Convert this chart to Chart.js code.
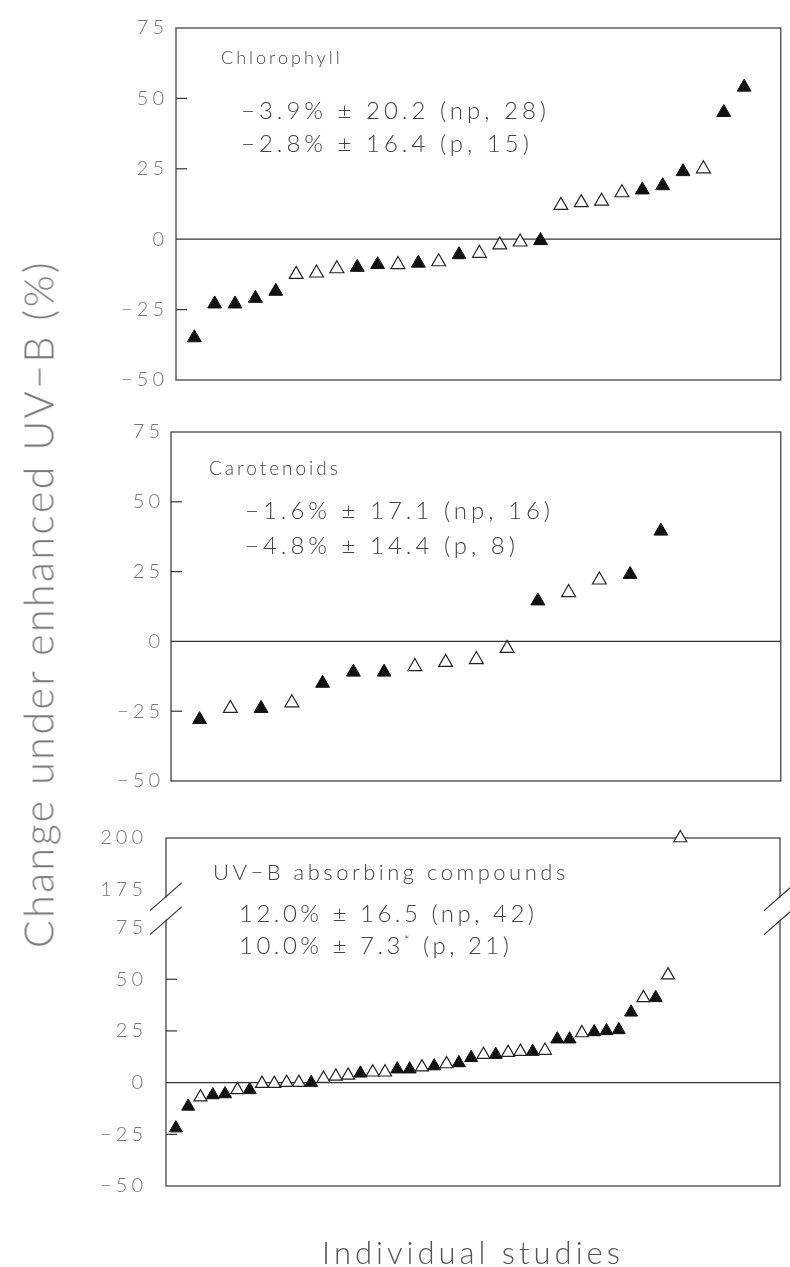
<!DOCTYPE html>
<html lang="en">
<head>
  <meta charset="UTF-8">
  <title>Change under enhanced UV-B</title>
  <style>
    body {
      margin: 0;
      background: #fff;
    }
    #page {
      position: relative;
      width: 790px;
      height: 1267px;
      overflow: hidden;
      font-family: Lato, Roboto, "DejaVu Sans", sans-serif;
      font-weight: 300;
      color: #444;
    }
    canvas {
      position: absolute;
      left: 0;
    }
    .txt {
      position: absolute;
      white-space: nowrap;
      line-height: 1;
    }
    .name { font-size: 18px; letter-spacing: 3px; }
    .stat { font-size: 24px; letter-spacing: 4px; }
    sup { font-size: 13px; }
    #ytitle {
      left: 38px;
      top: 604px;
      font-size: 41px;
      letter-spacing: 2.5px;
      color: #777;
      transform: translate(-50%, -50%) rotate(-90deg);
    }
    #xtitle {
      left: 473px;
      top: 1252px;
      font-size: 31px;
      letter-spacing: 4px;
      color: #555;
      transform: translate(-50%, -50%);
    }
  </style>
  <script src="https://cdn.jsdelivr.net/npm/chart.js"></script>
</head>
<body>
<div id="page">
  <canvas id="chl" width="790" height="400" style="top:0"></canvas>
  <canvas id="car" width="790" height="400" style="top:400px"></canvas>
  <canvas id="uvb" width="790" height="467" style="top:800px"></canvas>

  <div class="txt name" style="left:221px; top:48px">Chlorophyll</div>
  <div class="txt stat" style="left:241px; top:98px">−3.9% ± 20.2 (np, 28)</div>
  <div class="txt stat" style="left:241px; top:131px">−2.8% ± 16.4 (p, 15)</div>

  <div class="txt name" style="left:209px; top:458px; font-size:19px">Carotenoids</div>
  <div class="txt stat" style="left:245px; top:498px">−1.6% ± 17.1 (np, 16)</div>
  <div class="txt stat" style="left:245px; top:533px">−4.8% ± 14.4 (p, 8)</div>

  <div class="txt name" style="left:213px; top:861px; font-size:22px; letter-spacing:3.5px">UV−B absorbing compounds</div>
  <div class="txt stat" style="left:239px; top:901px; letter-spacing:3.5px">12.0% ± 16.5 (np, 42)</div>
  <div class="txt stat" style="left:239px; top:933px; letter-spacing:3.5px">10.0% ± 7.3<sup>*</sup> (p, 21)</div>

  <div class="txt" id="ytitle">Change under enhanced UV−B (%)</div>
  <div class="txt" id="xtitle">Individual studies</div>
</div>

<script>
  // values per study, sorted; 1 = paired study (filled triangle)
  const chlorophyll = [-35, -23, -23, -21, -18.5, -12.5, -12, -10.5, -10, -9, -9, -8.5, -8, -5.5, -5, -2, -1, -0.5,
                       12, 13, 13.5, 16.5, 17.5, 19, 24, 25, 45, 54];
  const chlorophyllPaired = [1, 1, 1, 1, 1, 0, 0, 0, 1, 1, 0, 1, 0, 1, 0, 0, 0, 1, 0, 0, 0, 0, 1, 1, 1, 0, 1, 1];

  const carotenoids = [-28, -24, -24, -22, -15, -11, -11, -9, -7.5, -6.5, -2.5, 14.5, 17.5, 22, 24, 39.5];
  const carotenoidsPaired = [1, 0, 1, 0, 1, 1, 1, 0, 0, 0, 0, 1, 0, 0, 1, 1];

  const uvbCompounds = [-22, -11.5, -7, -6, -5.5, -3.5, -3.5, -0.5, -0.5, 0, 0, 0, 2, 3, 3.5, 4.5, 5, 5, 6.5, 6.5,
                        7.5, 8, 9, 9.5, 12, 13.5, 13.5, 14.5, 15, 15, 15.5, 21, 21, 24, 24.5, 25, 25.5, 34, 41, 41, 52, 200];
  const uvbPaired = [1, 1, 0, 1, 1, 0, 1, 0, 0, 0, 0, 1, 0, 0, 0, 1, 0, 0, 1, 1,
                     0, 1, 0, 1, 1, 0, 1, 0, 0, 1, 0, 1, 1, 0, 1, 1, 1, 1, 0, 1, 0, 0];

  const yTicks = [-50, -25, 0, 25, 50, 75];
  const yTicksBroken = [-50, -25, 0, 25, 50, 75, 175, 200];
  const innerTicks = [-25, 25, 50];

  // broken axis: everything above 100 is pulled down so 175 sits just above 75
  const BREAK_SHIFT = 81.7;
  const toAxis = v => v > 100 ? v - BREAK_SHIFT : v;
  const fromAxis = v => v > 80 ? Math.round(v + BREAK_SHIFT) : v;
  const fmt = v => v < 0 ? '\u2212' + Math.abs(v) : String(v);

  const framePlugin = {
    id: 'frame',
    beforeDraw(chart) {
      chart.ctx.letterSpacing = '4px';
    },
    beforeDatasetsDraw(chart, args, opts) {
      const ctx = chart.ctx;
      const a = chart.chartArea;
      const y = chart.scales.y;
      ctx.save();
      ctx.letterSpacing = '0px';
      ctx.strokeStyle = '#333';
      ctx.lineWidth = 1.2;
      ctx.strokeRect(a.left, a.top, a.right - a.left, a.bottom - a.top);
      const y0 = y.getPixelForValue(0);
      ctx.beginPath();
      ctx.moveTo(a.left, y0);
      ctx.lineTo(a.right, y0);
      ctx.stroke();
      innerTicks.forEach(v => {
        const py = y.getPixelForValue(v);
        ctx.beginPath();
        ctx.moveTo(a.left, py);
        ctx.lineTo(a.left + 11, py);
        ctx.stroke();
      });
      if (opts.broken) {
        const mid = (y.getPixelForValue(toAxis(175)) + y.getPixelForValue(75)) / 2;
        [a.left, a.right].forEach(x => {
          ctx.fillStyle = '#fff';
          ctx.fillRect(x - 3, mid - 11, 6, 22);
          [-12, 12].forEach(d => {
            ctx.beginPath();
            ctx.moveTo(x - 16, mid + d + 14);
            ctx.lineTo(x + 16, mid + d - 14);
            ctx.stroke();
          });
        });
      }
      ctx.restore();
    }
  };

  function makePanel(id, values, paired, cfg) {
    const pts = values.map((v, i) => ({ x: i + 1, y: toAxis(v), p: paired[i] }));
    const filled = pts.filter(p => p.p === 1);
    const open = pts.filter(p => p.p === 0);
    const ticks = cfg.broken ? yTicksBroken : yTicks;

    new Chart(document.getElementById(id), {
      type: 'scatter',
      data: {
        datasets: [
          {
            label: 'not paired',
            data: open,
            pointStyle: 'triangle',
            pointRadius: cfg.radius,
            backgroundColor: '#fff',
            borderColor: '#222',
            borderWidth: 1.2,
            clip: false
          },
          {
            label: 'paired',
            data: filled,
            pointStyle: 'triangle',
            pointRadius: cfg.radius,
            backgroundColor: '#111',
            borderColor: '#111',
            borderWidth: 1,
            clip: false
          }
        ]
      },
      options: {
        responsive: false,
        animation: false,
        events: [],
        layout: {
          padding: { top: cfg.top, bottom: cfg.bottom, left: 0, right: cfg.right }
        },
        plugins: {
          legend: { display: false },
          tooltip: { enabled: false },
          frame: { broken: !!cfg.broken }
        },
        scales: {
          x: {
            type: 'linear',
            display: false,
            min: cfg.xMin,
            max: cfg.xMax
          },
          y: {
            type: 'linear',
            min: -50,
            max: toAxis(75 + (cfg.broken ? 125 : 0)),
            border: { display: false },
            grid: { display: false, drawTicks: false },
            afterBuildTicks: s => { s.ticks = ticks.map(v => ({ value: toAxis(v) })); },
            afterFit: s => { s.width = cfg.left; },
            ticks: {
              padding: cfg.gap,
              color: '#777',
              font: { family: 'Lato, Roboto, sans-serif', size: 20, weight: 300 },
              callback: v => fmt(fromAxis(v))
            }
          }
        }
      },
      plugins: [framePlugin]
    });
  }

  makePanel('chl', chlorophyll, chlorophyllPaired,
    { top: 28, bottom: 17, left: 176, right: 1, xMin: 0.1, xMax: 29.8, radius: 8, gap: 8 });
  makePanel('car', carotenoids, carotenoidsPaired,
    { top: 32, bottom: 16, left: 171, right: 4, xMin: 0.07, xMax: 19.9, radius: 8, gap: 7 });
  makePanel('uvb', uvbCompounds, uvbPaired,
    { top: 38, bottom: 81, left: 166, right: 10, xMin: 0.2, xMax: 50.1, radius: 7.5, gap: 19, broken: true });
</script>
</body>
</html>
